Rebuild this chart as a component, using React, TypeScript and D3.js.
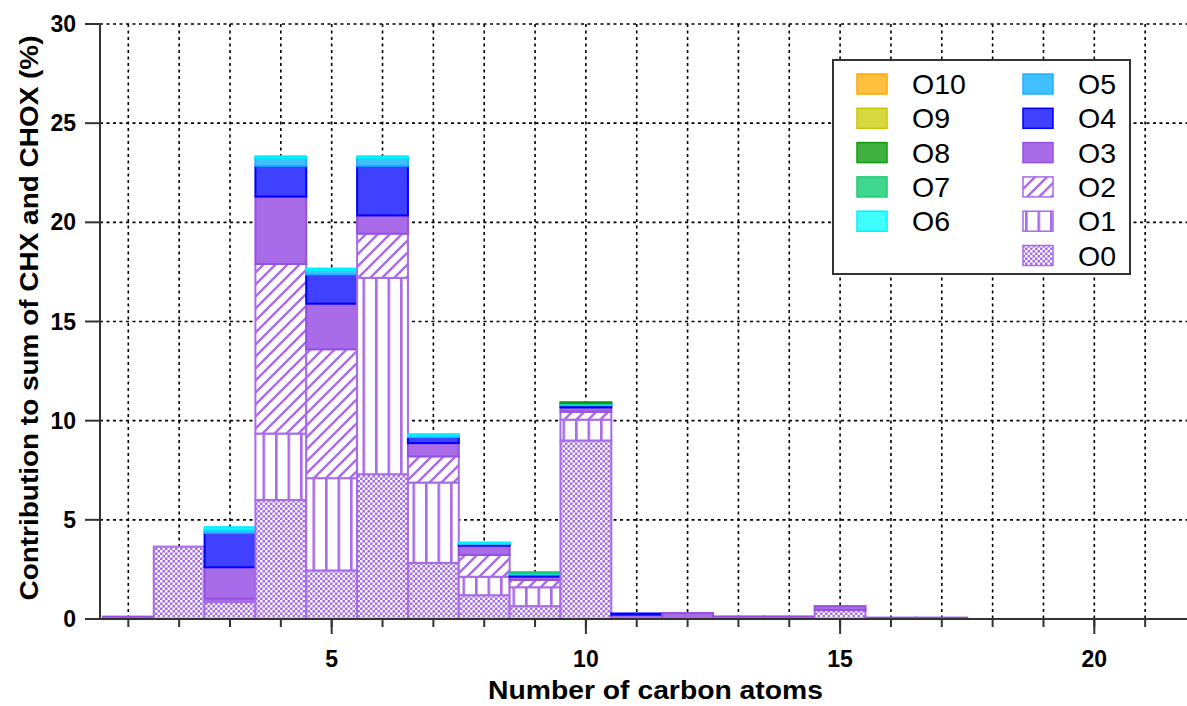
import React from "react";
import * as d3 from "d3";

const carbons = [1, 2, 3, 4, 5, 6, 7, 8, 9, 10, 11, 12, 13, 14, 15, 16, 17];
const O0 = [0, 3.65, 0.85, 6.0, 2.45, 7.3, 2.83, 1.2, 0.65, 9.0, 0, 0, 0, 0, 0.45, 0, 0];
const O1 = [0, 0, 0.08, 3.35, 4.65, 9.9, 4.05, 0.93, 0.95, 1.05, 0, 0, 0, 0, 0, 0, 0];
const O2 = [0, 0, 0.1, 8.55, 6.5, 2.23, 1.32, 1.1, 0.37, 0.4, 0, 0, 0, 0, 0, 0, 0];
const O3 = [0.12, 0, 1.58, 3.4, 2.3, 0.92, 0.67, 0.47, 0.17, 0.22, 0.22, 0.3, 0.13, 0.13, 0.2, 0.07, 0.07];
const O4 = [0, 0, 1.73, 1.55, 1.47, 2.5, 0.3, 0.08, 0.1, 0.11, 0.06, 0, 0, 0, 0, 0, 0];
const O5 = [0, 0, 0.17, 0.4, 0.2, 0.4, 0.08, 0.04, 0.04, 0.05, 0, 0, 0, 0, 0, 0, 0];
const O6 = [0, 0, 0.12, 0.08, 0.1, 0.08, 0.07, 0.04, 0.03, 0.03, 0, 0, 0, 0, 0, 0, 0];
const O7 = [0, 0, 0, 0, 0, 0, 0, 0, 0.05, 0.03, 0, 0, 0, 0, 0, 0, 0];
const O8 = [0, 0, 0, 0, 0, 0, 0, 0, 0, 0.04, 0, 0, 0, 0, 0, 0, 0];
const O9 = [0, 0, 0, 0, 0, 0, 0, 0, 0, 0, 0, 0, 0, 0, 0, 0, 0];
const O10 = [0, 0, 0, 0, 0, 0, 0, 0, 0, 0, 0, 0, 0, 0, 0, 0, 0];

const seriesNames = ["O0", "O1", "O2", "O3", "O4", "O5", "O6", "O7", "O8", "O9", "O10"];
const seriesValues = [O0, O1, O2, O3, O4, O5, O6, O7, O8, O9, O10];

const yTicks = [0, 5, 10, 15, 20, 25, 30];
const xMajorTicks = [5, 10, 15, 20];
const xMinorTicks = d3.range(1, 22);

const legendLeft = ["O10", "O9", "O8", "O7", "O6"];
const legendRight = ["O5", "O4", "O3", "O2", "O1", "O0"];

const PURPLE = "#a86ce8";
const styles: Record<string, { fill: string; stroke: string }> = {
  O0: { fill: "url(#patO0)", stroke: PURPLE },
  O1: { fill: "url(#patO1)", stroke: PURPLE },
  O2: { fill: "url(#patO2)", stroke: PURPLE },
  O3: { fill: "#a86ce8", stroke: "#9650e0" },
  O4: { fill: "#4040ff", stroke: "#0000ff" },
  O5: { fill: "#40c0ff", stroke: "#20b0ff" },
  O6: { fill: "#40ffff", stroke: "#00f0ff" },
  O7: { fill: "#40d890", stroke: "#20c870" },
  O8: { fill: "#40b040", stroke: "#109a10" },
  O9: { fill: "#d8d840", stroke: "#c8c800" },
  O10: { fill: "#ffc040", stroke: "#ffa800" },
};

const FONT = "'Liberation Sans', Arial, sans-serif";

export default function App() {
  const W = 1187;
  const H = 706;
  const left = 100;
  const right = 1187;
  const top = 24;
  const bottom = 619;

  const x = d3.scaleLinear().domain([0.443, 21.823]).range([left, right]);
  const y = d3.scaleLinear().domain([0, 30]).range([bottom, top]);

  const segments: { key: string; x0: number; x1: number; y0: number; y1: number; s: string }[] = [];
  carbons.forEach((c, i) => {
    let acc = 0;
    seriesNames.forEach((name, k) => {
      const v = seriesValues[k][i];
      if (v > 0) {
        segments.push({
          key: `${c}-${name}`,
          x0: x(c - 0.5),
          x1: x(c + 0.5),
          y0: y(acc + v),
          y1: y(acc),
          s: name,
        });
        acc += v;
      }
    });
  });

  const rowY = (i: number) => 84 + i * 34.3;

  return (
    <svg
      width={W}
      height={H}
      style={{ position: "absolute", left: 0, top: 0, background: "#fff" }}
      fontFamily={FONT}
    >
      <defs>
        <pattern id="patO0" patternUnits="userSpaceOnUse" width={5} height={5}>
          <rect width={5} height={5} fill={PURPLE} />
          <rect x={0} y={0} width={2.5} height={2.5} fill="#fff" />
          <rect x={2.5} y={2.5} width={2.5} height={2.5} fill="#fff" />
        </pattern>
        <pattern id="patO1" patternUnits="userSpaceOnUse" width={12.5} height={10}>
          <rect width={12.5} height={10} fill="#fff" />
          <rect x={0} y={0} width={2.6} height={10} fill={PURPLE} />
        </pattern>
        <pattern id="patO2" patternUnits="userSpaceOnUse" width={12} height={12}>
          <rect width={12} height={12} fill="#fff" />
          <path d="M-3,3 L3,-3 M0,12 L12,0 M9,15 L15,9" stroke={PURPLE} strokeWidth={2.4} />
        </pattern>
      </defs>

      {/* grid */}
      <g stroke="#000" strokeWidth={1.6} strokeDasharray="3,3.5">
        {xMinorTicks.map((t) => (
          <line key={`gx${t}`} x1={x(t)} x2={x(t)} y1={top} y2={bottom} />
        ))}
        {yTicks
          .filter((t) => t > 0)
          .map((t) => (
            <line key={`gy${t}`} x1={left} x2={right} y1={y(t)} y2={y(t)} />
          ))}
      </g>

      {/* bars */}
      <g strokeWidth={2}>
        {segments.map((d) => (
          <rect
            key={d.key}
            x={d.x0}
            y={d.y0}
            width={d.x1 - d.x0}
            height={Math.max(0.5, d.y1 - d.y0)}
            fill={styles[d.s].fill}
            stroke={styles[d.s].stroke}
          />
        ))}
      </g>

      {/* axes */}
      <g stroke="#333" strokeWidth={2}>
        <line x1={left} x2={left} y1={top} y2={bottom + 1} />
        <line x1={left - 1} x2={right} y1={bottom} y2={bottom} />
        {yTicks.map((t) => (
          <line key={`ty${t}`} x1={left - 15} x2={left} y1={y(t)} y2={y(t)} />
        ))}
        {xMinorTicks.map((t) => (
          <line key={`tx${t}`} x1={x(t)} x2={x(t)} y1={bottom} y2={bottom + 8} />
        ))}
        {xMajorTicks.map((t) => (
          <line key={`tX${t}`} x1={x(t)} x2={x(t)} y1={bottom} y2={bottom + 15} />
        ))}
      </g>

      {/* tick labels */}
      <g fontSize={23} fontWeight="bold" fill="#000">
        {yTicks.map((t) => (
          <text key={`ly${t}`} x={76} y={y(t)} textAnchor="end" dominantBaseline="central">
            {t}
          </text>
        ))}
        {xMajorTicks.map((t) => (
          <text key={`lx${t}`} x={x(t)} y={667} textAnchor="middle">
            {t}
          </text>
        ))}
      </g>

      {/* axis titles */}
      <text
        x={655.5}
        y={699}
        textAnchor="middle"
        fontSize={26}
        fontWeight="bold"
        textLength={335}
        lengthAdjust="spacingAndGlyphs"
      >
        Number of carbon atoms
      </text>
      <text
        transform={`translate(38,318) rotate(-90)`}
        textAnchor="middle"
        fontSize={25}
        fontWeight="bold"
        textLength={565}
        lengthAdjust="spacingAndGlyphs"
      >
        Contribution to sum of CHX and CHOX (%)
      </text>

      {/* legend */}
      <rect x={833} y={60} width={297} height={214} fill="#fff" stroke="#333" strokeWidth={2} />
      {legendLeft.map((name, i) => (
        <g key={`lg${name}`}>
          <rect
            x={857}
            y={rowY(i) - 10}
            width={30}
            height={20}
            fill={styles[name].fill}
            stroke={styles[name].stroke}
            strokeWidth={1.5}
          />
          <text x={912} y={rowY(i)} dominantBaseline="central" fontSize={28.5}>
            {name}
          </text>
        </g>
      ))}
      {legendRight.map((name, i) => (
        <g key={`lg${name}`}>
          <rect
            x={1023}
            y={rowY(i) - 10}
            width={30}
            height={20}
            fill={styles[name].fill}
            stroke={styles[name].stroke}
            strokeWidth={1.5}
          />
          <text x={1078} y={rowY(i)} dominantBaseline="central" fontSize={28.5}>
            {name}
          </text>
        </g>
      ))}
    </svg>
  );
}
